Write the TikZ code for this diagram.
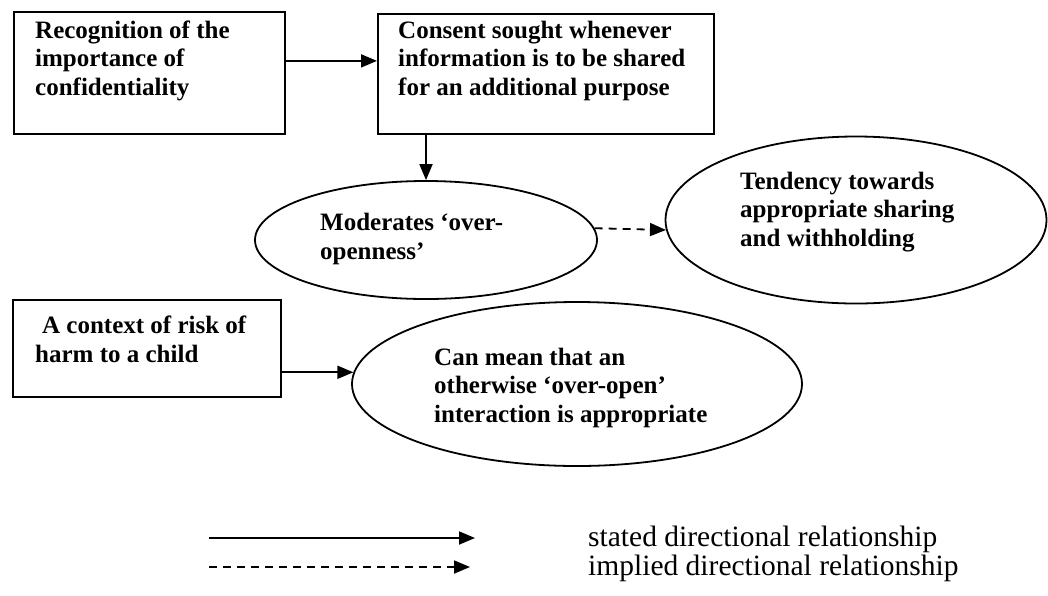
\documentclass[tikz,border=0pt]{standalone}
\usepackage{fontspec}
\setmainfont{Liberation Serif}
\usetikzlibrary{arrows.meta,shapes.geometric}
\begin{document}
\begin{tikzpicture}[x=1pt,y=-1pt,
  every node/.style={inner sep=0pt},
  frame/.style={draw, line width=1.8pt, rectangle, anchor=north west},
  oval/.style={draw, line width=1.8pt, ellipse},
  % multi-line labels are placed by the baseline of their last line
  label/.style={font=\fontsize{25}{28.3}\selectfont\bfseries, align=left, anchor=base west},
  legendtext/.style={font=\fontsize{29.5}{32}\selectfont, anchor=base west},
  link/.style={line width=1.8pt, -{Triangle[length=16pt,width=13pt]}},
  hint/.style={link, dash pattern=on 8pt off 6pt}]
\useasboundingbox (0,0) rectangle (1048,595);

% boxes
\node[frame, minimum width=271pt, minimum height=122pt] (b1) at (13,11) {};
\node[frame, minimum width=336pt, minimum height=120pt] (b2) at (377,13) {};
\node[frame, minimum width=268pt, minimum height=97pt]  (b3) at (12,299) {};

% ellipses
\node[oval, minimum width=342pt, minimum height=118pt] (e1) at (426,240) {};
\node[oval, minimum width=381pt, minimum height=167pt] (e2) at (856,220) {};
\node[oval, minimum width=450pt, minimum height=164pt] (e3) at (577,384) {};

% texts
\node[label] (t1) at (35,95)   {Recognition of the\\importance of\\confidentiality};
\node[label] (t2) at (398,95)  {Consent sought whenever\\information is to be shared\\for an additional purpose};
\node[label] (t3) at (35,362)  {\hspace*{7pt}A context of risk of\\harm to a child};
\node[label] (t4) at (320,259) {Moderates ‘over-\\openness’};
\node[label] (t5) at (740,246) {Tendency towards\\appropriate sharing\\and withholding};
\node[label] (t6) at (434,422) {Can mean that an\\otherwise ‘over-open’\\interaction is appropriate};

% connectors
\draw[link] ([yshift=12pt]b1.east) -- ([yshift=12pt]b1.east -| b2.west);
\draw[link] (e1.north |- b2.south) -- (e1.north);
\draw[hint] (e1.4) -- (e2.183);
\draw[link] (b3.east |- e3.177) -- (e3.177);

% legend
\coordinate (s0) at (209,538);
\coordinate (s1) at (475,538);
\coordinate (d0) at (209,567);
\coordinate (d1) at (470,567);
\draw[link] (s0) -- (s1);
\draw[hint] (d0) -- (d1);
\node[legendtext] (ls) at (588,546) {stated directional relationship};
\node[legendtext] (li) at (588,575) {implied directional relationship};
\end{tikzpicture}
\end{document}
